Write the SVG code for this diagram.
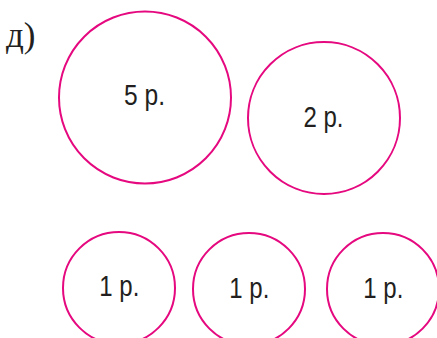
<svg xmlns="http://www.w3.org/2000/svg" width="437" height="338" viewBox="0 0 437 338">
<style>
.c{fill:none;stroke:#e5087f;stroke-width:2}
.t{font-family:"Liberation Sans",Arial,sans-serif;font-size:29px;fill:#231f20;text-anchor:middle}
.l{font-family:"Liberation Serif","Times New Roman",serif;font-size:35px;fill:#231f20}
</style>
<rect width="437" height="338" fill="#fff"/>
<text class="l" x="6" y="47">д)</text>
<g id="coin5"><circle class="c" cx="145" cy="97.5" r="86"/><text class="t" x="144.5" y="105" textLength="41" lengthAdjust="spacingAndGlyphs">5 р.</text></g>
<g id="coin2"><circle class="c" cx="324" cy="118" r="76"/><text class="t" x="323.5" y="126.5" textLength="40" lengthAdjust="spacingAndGlyphs">2 р.</text></g>
<g id="coin1a"><circle class="c" cx="119" cy="288" r="56"/><text class="t" x="119.3" y="295.5" textLength="40" lengthAdjust="spacingAndGlyphs">1 р.</text></g>
<g id="coin1b"><circle class="c" cx="249" cy="289" r="56"/><text class="t" x="249.3" y="297.5" textLength="40" lengthAdjust="spacingAndGlyphs">1 р.</text></g>
<g id="coin1c"><circle class="c" cx="383" cy="289" r="56"/><text class="t" x="383.3" y="297.5" textLength="40" lengthAdjust="spacingAndGlyphs">1 р.</text></g>
<g id="connectors"/>
</svg>
